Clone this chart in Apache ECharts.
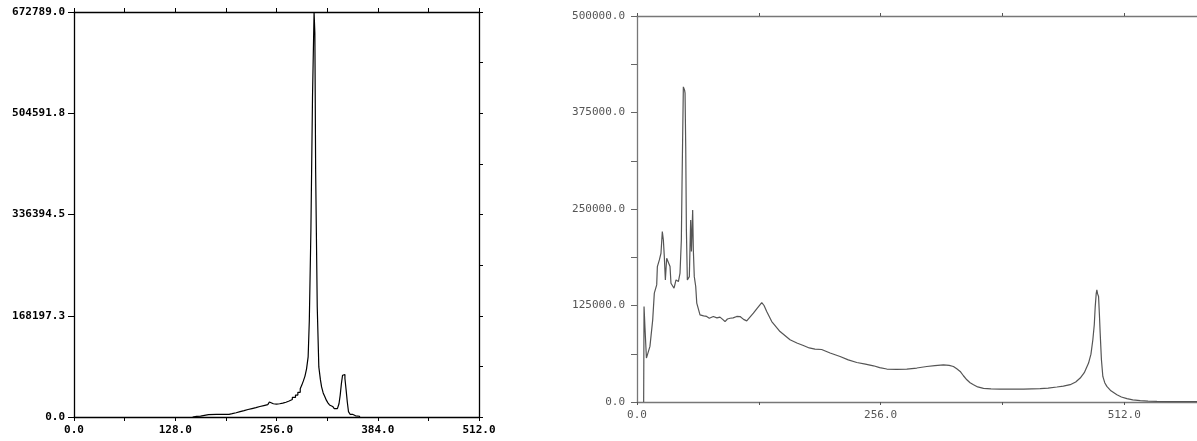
<!DOCTYPE html>
<html>
<head>
<meta charset="utf-8">
<script src="https://cdn.jsdelivr.net/npm/echarts@6/dist/echarts.min.js"></script>
<style>
html,body{margin:0;padding:0;background:#fff;}
#c{width:1197px;height:441px;}
</style>
</head>
<body>
<div id="c"></div>
<script>
// ---------- Left histogram (step) ----------
const leftX = [150,151,155,160,170,180,190,196,200,205,210,215,220,225,230,235,240,245,247,249,252,256,260,264,268,272,276,280,283,286,288,290,292,294,296,297.5,299.5,301.5,303.5,304.5,305.5,307.5,309.5,311.5,313,315,317,319,321,323,325,327,329,331,333,335,336.5,338,339.5,341,342.5,344,345.5,347,349,352,356,361];
const leftY = [0,1000,1500,4000,4200,4300,4500,5500,7000,9000,10500,12500,14000,15500,17500,19000,20500,22500,25000,22000,21500,22000,23000,24500,26500,29000,32500,36500,41000,47000,53000,60000,68000,80000,100000,160800,310600,529700,672789,638000,407600,183000,83200,62000,50000,40000,34000,28000,23500,20000,17500,15500,14000,14000,16000,22000,36000,55000,69400,70500,63900,45000,25000,9000,4500,2000,1200,0];
const leftXTicks = [0,64,128,192,256,320,384,448,512];
const leftXLabels = [0,128,256,384,512];
const leftYLabels = [0,168197.25,336394.5,504591.75,672789];
const leftYRightTicks = [0,84098.625,168197.25,252295.875,336394.5,420493.125,504591.75,588690.375,672789];

// ---------- Right spectrum (line) ----------
const rightX = [7,7.4,8.4,9.9,11.9,13.6,16.5,18.2,20.7,21.4,23.5,25.2,26.6,27.7,28.7,29.8,31.2,33.3,34.7,35.7,37.5,38.9,41,43.5,45.2,46.6,47.3,48.7,50,50.5,51.2,51.9,52.9,55,56.4,57.2,58.5,59.2,60.2,61.7,62.8,66.2,70,73.2,76,80.2,84,87.2,90,92.5,95,97.8,101,104.8,108.3,112,115.3,118,122.3,126,131.1,133.5,136.3,141.6,150.3,160.8,168,174.8,181,187,194,202.9,213.4,222,231,240,248.5,255,262.5,273,283.5,294,304.5,313,322,328,332.5,336,339.6,343,346.6,350,353.6,358,364.1,372,381.6,395,406.1,415,423.6,432,441.2,448,455.2,461,465.7,470,474.5,477,479,480.5,481.5,482.5,483.2,484,485,486,486.7,488,489.5,491.5,493.7,498,504.3,509,514.8,521,528.8,537,546.3,560,575,600];
const rightY = [0,123600,95700,56900,55000,72000,106400,141000,151700,175400,184000,192700,220700,209900,188300,158200,186200,188300,175400,153900,156000,147400,158200,156000,166800,209900,281000,408200,404000,400000,330600,222800,158200,162400,235800,195000,248700,197000,162400,149600,128000,112900,111500,110800,108500,110800,109000,110000,107000,104200,107500,108500,109000,110800,110700,107000,105100,109000,115100,121000,128800,125000,117200,104200,91300,80600,76500,73200,70000,68500,68000,63400,59000,54500,51200,49000,46900,44500,42700,42300,42700,44000,46000,47200,48200,47500,46000,43000,39600,34000,28800,25000,22400,19500,17600,17000,16800,16800,16800,17000,17200,18000,19400,20500,22400,26000,31000,38000,50400,62000,80600,100000,123600,140000,145200,140000,136600,110000,89200,55000,33100,25000,20200,14500,9400,6500,4300,2800,1700,1100,800,600,500,500];
const rightXTicks = [0,128,256,384,512];
const rightXLabels = [0,256,512];
const rightYTicks = [0,62500,125000,187500,250000,312500,375000,437500,500000];
const rightYLabels = [0,125000,250000,375000,500000];

const zip = (a,b) => a.map((v,i)=>[v,b[i]]);
const FONT = 'DejaVu Sans Mono';
const fmt = v => Number(v).toFixed(1);

const chart = echarts.init(document.getElementById('c'), null, {renderer:'canvas'});
chart.setOption({
  animation:false,
  backgroundColor:'#fff',
  grid:[
    {left:74, top:12, width:405, height:405, outerBoundsMode:'none', containLabel:false},
    {left:637, top:16, width:571, height:386, outerBoundsMode:'none', containLabel:false}
  ],
  xAxis:[
    {gridIndex:0, type:'value', position:'bottom', min:0, max:512,
     axisLine:{show:true, onZero:false, lineStyle:{color:'#000', width:1.3}},
     axisTick:{show:true, length:4, customValues:leftXTicks, lineStyle:{color:'#000'}},
     axisLabel:{show:true, customValues:leftXLabels, formatter:fmt, margin:8, color:'#000', fontFamily:FONT, fontSize:11, fontWeight:'bold'},
     splitLine:{show:false}},
    {gridIndex:0, type:'value', position:'top', min:0, max:512,
     axisLine:{show:true, onZero:false, lineStyle:{color:'#000', width:1.3}},
     axisTick:{show:true, length:4, customValues:leftXTicks, lineStyle:{color:'#000'}},
     axisLabel:{show:false}, splitLine:{show:false}},
    {gridIndex:1, type:'value', position:'bottom', min:0, max:600,
     axisLine:{show:true, onZero:false, lineStyle:{color:'#777', width:1.3}},
     axisTick:{show:true, length:3, customValues:rightXTicks, lineStyle:{color:'#555'}},
     axisLabel:{show:true, customValues:rightXLabels, formatter:fmt, margin:8, color:'#555', fontFamily:FONT, fontSize:11},
     splitLine:{show:false}},
    {gridIndex:1, type:'value', position:'top', min:0, max:600,
     axisLine:{show:true, onZero:false, lineStyle:{color:'#777', width:1.3}},
     axisTick:{show:true, length:3, customValues:rightXTicks, lineStyle:{color:'#555'}},
     axisLabel:{show:false}, splitLine:{show:false}}
  ],
  yAxis:[
    {gridIndex:0, type:'value', position:'left', min:0, max:672789,
     axisLine:{show:true, onZero:false, lineStyle:{color:'#000', width:1.3}},
     axisTick:{show:true, length:6, customValues:leftYLabels, lineStyle:{color:'#000'}},
     axisLabel:{show:true, customValues:leftYLabels, formatter:fmt, margin:9, color:'#000', fontFamily:FONT, fontSize:11, fontWeight:'bold'},
     splitLine:{show:false}},
    {gridIndex:0, type:'value', position:'right', min:0, max:672789,
     axisLine:{show:true, onZero:false, lineStyle:{color:'#000', width:1.3}},
     axisTick:{show:true, length:4, customValues:leftYRightTicks, lineStyle:{color:'#000'}},
     axisLabel:{show:false}, splitLine:{show:false}},
    {gridIndex:1, type:'value', position:'left', min:0, max:500000,
     axisLine:{show:true, onZero:false, lineStyle:{color:'#777', width:1.3}},
     axisTick:{show:true, length:6, customValues:rightYTicks, lineStyle:{color:'#666'}},
     axisLabel:{show:true, customValues:rightYLabels, formatter:fmt, margin:12, color:'#555', fontFamily:FONT, fontSize:11},
     splitLine:{show:false}}
  ],
  series:[
    {type:'line', xAxisIndex:0, yAxisIndex:0, step:'end', data:zip(leftX,leftY),
     showSymbol:false, symbol:'none', lineStyle:{color:'#000', width:1.2}, clip:true},
    {type:'line', xAxisIndex:2, yAxisIndex:2, data:zip(rightX,rightY),
     showSymbol:false, symbol:'none', lineStyle:{color:'#555', width:1.2}, clip:true}
  ]
});
</script>
</body>
</html>
